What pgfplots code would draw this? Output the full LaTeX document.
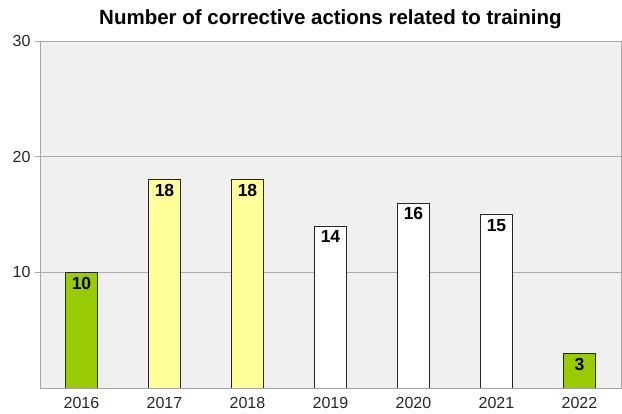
\documentclass[border=0pt]{standalone}
\usepackage{fontspec}
\setmainfont{Liberation Sans}
\usepackage{pgfplots}
\pgfplotsset{compat=1.18}
\definecolor{bargreen}{HTML}{99CC00}
\definecolor{baryellow}{HTML}{FFFF99}
\definecolor{plotbg}{HTML}{F0F0F0}
\begin{document}
\begin{tikzpicture}
\begin{axis}[
  at={(0,0)}, anchor=south west,
  scale only axis, width=581pt, height=347pt,
  xmin=-0.5, xmax=6.5, ymin=0, ymax=30,
  xtick={0,...,6},
  xticklabels={2016,2017,2018,2019,2020,2021,2022},
  ytick={10,20,30},
  major x tick style={draw=none},
  major y tick style={gray!70, line width=0.8pt},
  tick align=outside, major tick length=5pt,
  ymajorgrids, grid style={gray!65, line width=0.8pt},
  axis line style={gray!70, line width=0.8pt},
  axis background/.style={fill=plotbg},
  ticklabel style={font=\fontsize{16}{18}\selectfont, text=black!85},
  xticklabel style={yshift=-1pt},
  yticklabel style={xshift=-1pt},
  /pgf/number format/assume math mode=true,
  title={Number of corrective actions related to training},
  title style={font=\bfseries\fontsize{20.5}{23}\selectfont, at={(0.5,1)}, anchor=south, yshift=3pt},
  ybar, bar width=32pt, bar shift=0pt,
  nodes near coords,
  nodes near coords style={anchor=north, font=\bfseries\fontsize{17.5}{19}\selectfont, text=black, yshift=-1pt},
  every axis plot/.append style={draw=black!85, line width=0.8pt},
]
\addplot[fill=bargreen] coordinates {(0,10) (6,3)};
\addplot[fill=baryellow] coordinates {(1,18) (2,18)};
\addplot[fill=white] coordinates {(3,14) (4,16) (5,15)};
\end{axis}
\pgfresetboundingbox
\path (-40pt,-26pt) rectangle (582pt,388pt);
\end{tikzpicture}
\end{document}
